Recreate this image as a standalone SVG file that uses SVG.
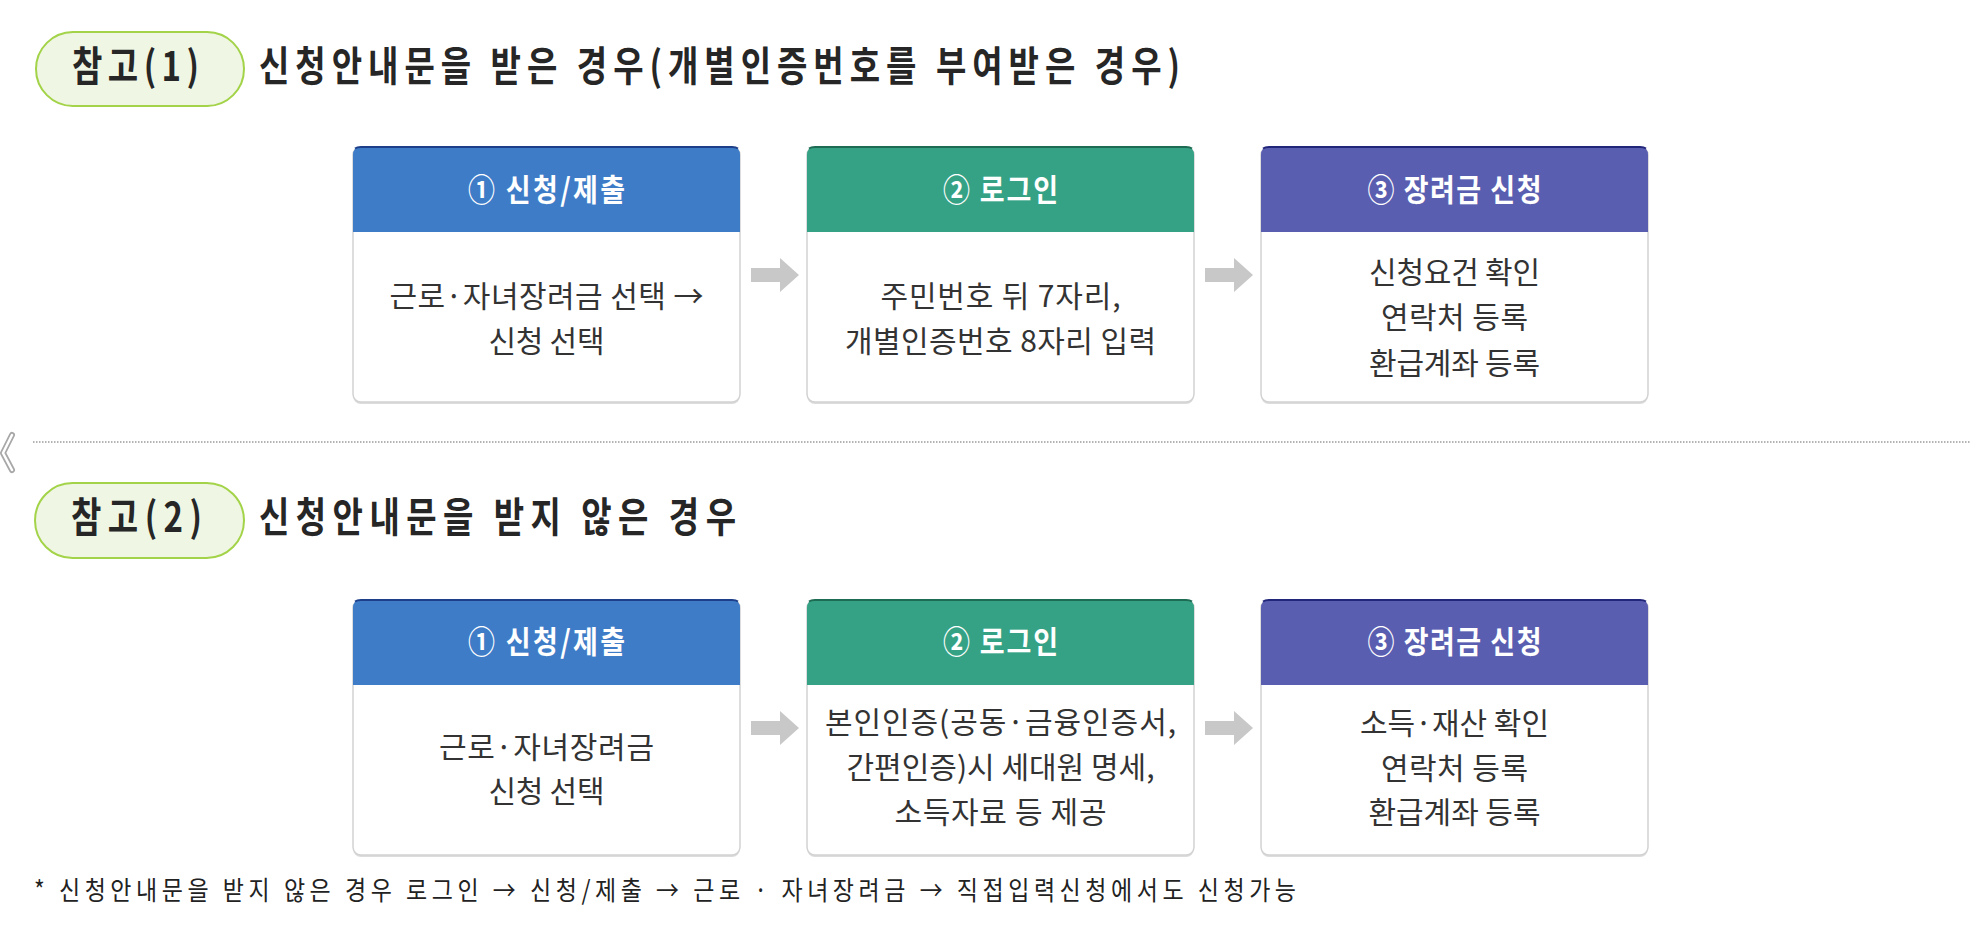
<svg xmlns="http://www.w3.org/2000/svg" width="1983" height="934" viewBox="0 0 1983 934">
<style>
  text { font-family: "Noto Sans CJK KR", "Noto Sans", sans-serif; }
  .pill { fill: #eff6e4; stroke: #a3d348; stroke-width: 2; }
  .title { font-size: 33px; font-weight: bold; fill: #262626; }
  .hdr { font-size: 27px; font-weight: bold; fill: #ffffff; text-anchor: middle; }
  .body { font-size: 30px; fill: #333333; text-anchor: middle; }
  .card { fill: #ffffff; stroke: #d2d2d2; stroke-width: 1.5; }
  .shadow { fill: #dcdcdc; }
  .arrow { fill: #c8c8c8; }
  .foot { font-size: 23px; fill: #222222; }
</style>
<defs>
  <path id="arr" d="M0,-7 H29 V-17 L48,0 L29,17 V7 H0 Z"/>
</defs>
<rect width="1983" height="934" fill="#ffffff"/>

<!-- Section 1 heading -->
<g id="ref1">
  <rect class="pill" x="36" y="32" width="208" height="74" rx="37"/>
  <text class="title" transform="translate(72,81) scale(1,1.23)" textLength="127" lengthAdjust="spacing">참고(1)</text>
</g>
<g id="title1">
  <text class="title" transform="translate(259,81) scale(1,1.23)" textLength="921" lengthAdjust="spacing">신청안내문을 받은 경우(개별인증번호를 부여받은 경우)</text>
</g>

<!-- Section 1 cards -->
<g id="s1-step1">
  <rect class="shadow" x="353" y="149" width="387" height="255" rx="8"/>
  <rect class="card" x="353" y="147" width="387" height="255" rx="8"/>
  <path d="M353,232 V155 Q353,147 361,147 H732 Q740,147 740,155 V232 Z" fill="#3e7cc7"/>
  <path d="M355,148.5 Q357,147 361,147 H732 Q736,147 738,148.5" fill="none" stroke="#1d3f8a" stroke-width="2"/>
  <text class="hdr" transform="translate(546.5,201) scale(1,1.15)" textLength="157" lengthAdjust="spacing">① 신청/제출</text>
  <text class="body" x="546.5" y="307" textLength="314" lengthAdjust="spacing">근로·자녀장려금 선택 →</text>
  <text class="body" x="546.5" y="352" textLength="116" lengthAdjust="spacing">신청 선택</text>
</g>
<g id="s1-step2">
  <rect class="shadow" x="807" y="149" width="387" height="255" rx="8"/>
  <rect class="card" x="807" y="147" width="387" height="255" rx="8"/>
  <path d="M807,232 V155 Q807,147 815,147 H1186 Q1194,147 1194,155 V232 Z" fill="#36a285"/>
  <path d="M809,148.5 Q811,147 815,147 H1186 Q1190,147 1192,148.5" fill="none" stroke="#1c6b52" stroke-width="2"/>
  <text class="hdr" transform="translate(1000.5,201) scale(1,1.15)" textLength="115" lengthAdjust="spacing">② 로그인</text>
  <text class="body" x="1000.5" y="307" textLength="240" lengthAdjust="spacing">주민번호 뒤 7자리,</text>
  <text class="body" x="1000.5" y="352" textLength="311" lengthAdjust="spacing">개별인증번호 8자리 입력</text>
</g>
<g id="s1-step3">
  <rect class="shadow" x="1261" y="149" width="387" height="255" rx="8"/>
  <rect class="card" x="1261" y="147" width="387" height="255" rx="8"/>
  <path d="M1261,232 V155 Q1261,147 1269,147 H1640 Q1648,147 1648,155 V232 Z" fill="#5a5eb0"/>
  <path d="M1263,148.5 Q1265,147 1269,147 H1640 Q1644,147 1646,148.5" fill="none" stroke="#22267a" stroke-width="2"/>
  <text class="hdr" transform="translate(1454.5,201) scale(1,1.15)" textLength="174" lengthAdjust="spacing">③ 장려금 신청</text>
  <text class="body" x="1454.5" y="283" textLength="171" lengthAdjust="spacing">신청요건 확인</text>
  <text class="body" x="1454.5" y="328" textLength="147" lengthAdjust="spacing">연락처 등록</text>
  <text class="body" x="1454.5" y="374" textLength="171" lengthAdjust="spacing">환급계좌 등록</text>
</g>

<!-- Divider -->
<g id="divider">
  <line x1="33" y1="442" x2="1970" y2="442" stroke="#9a9a9a" stroke-width="1.5" stroke-dasharray="1.5 1.5"/>
  <polyline points="12,435 3,453 12,470" fill="none" stroke="#a8a8a8" stroke-width="6" stroke-linecap="round" stroke-linejoin="round"/>
  <polyline points="12,435 3,453 12,470" fill="none" stroke="#ffffff" stroke-width="2.5" stroke-linecap="round" stroke-linejoin="round"/>
</g>

<!-- Section 2 heading -->
<g id="ref2">
  <rect class="pill" x="35" y="483" width="209" height="75" rx="37.5"/>
  <text class="title" transform="translate(71,532) scale(1,1.23)" textLength="131" lengthAdjust="spacing">참고(2)</text>
</g>
<g id="title2">
  <text class="title" transform="translate(259,532) scale(1,1.23)" textLength="477" lengthAdjust="spacing">신청안내문을 받지 않은 경우</text>
</g>

<!-- Section 2 cards -->
<g id="s2-step1">
  <rect class="shadow" x="353" y="602" width="387" height="255" rx="8"/>
  <rect class="card" x="353" y="600" width="387" height="255" rx="8"/>
  <path d="M353,685 V608 Q353,600 361,600 H732 Q740,600 740,608 V685 Z" fill="#3e7cc7"/>
  <path d="M355,601.5 Q357,600 361,600 H732 Q736,600 738,601.5" fill="none" stroke="#1d3f8a" stroke-width="2"/>
  <text class="hdr" transform="translate(546.5,653) scale(1,1.15)" textLength="157" lengthAdjust="spacing">① 신청/제출</text>
  <text class="body" x="546.5" y="758" textLength="215" lengthAdjust="spacing">근로·자녀장려금</text>
  <text class="body" x="546.5" y="802" textLength="116" lengthAdjust="spacing">신청 선택</text>
</g>
<g id="s2-step2">
  <rect class="shadow" x="807" y="602" width="387" height="255" rx="8"/>
  <rect class="card" x="807" y="600" width="387" height="255" rx="8"/>
  <path d="M807,685 V608 Q807,600 815,600 H1186 Q1194,600 1194,608 V685 Z" fill="#36a285"/>
  <path d="M809,601.5 Q811,600 815,600 H1186 Q1190,600 1192,601.5" fill="none" stroke="#1c6b52" stroke-width="2"/>
  <text class="hdr" transform="translate(1000.5,653) scale(1,1.15)" textLength="115" lengthAdjust="spacing">② 로그인</text>
  <text class="body" x="1000.5" y="733" textLength="351" lengthAdjust="spacing">본인인증(공동·금융인증서,</text>
  <text class="body" x="1000.5" y="778" textLength="308" lengthAdjust="spacing">간편인증)시 세대원 명세,</text>
  <text class="body" x="1000.5" y="823" textLength="212" lengthAdjust="spacing">소득자료 등 제공</text>
</g>
<g id="s2-step3">
  <rect class="shadow" x="1261" y="602" width="387" height="255" rx="8"/>
  <rect class="card" x="1261" y="600" width="387" height="255" rx="8"/>
  <path d="M1261,685 V608 Q1261,600 1269,600 H1640 Q1648,600 1648,608 V685 Z" fill="#5a5eb0"/>
  <path d="M1263,601.5 Q1265,600 1269,600 H1640 Q1644,600 1646,601.5" fill="none" stroke="#22267a" stroke-width="2"/>
  <text class="hdr" transform="translate(1454.5,653) scale(1,1.15)" textLength="174" lengthAdjust="spacing">③ 장려금 신청</text>
  <text class="body" x="1454.5" y="734" textLength="189" lengthAdjust="spacing">소득·재산 확인</text>
  <text class="body" x="1454.5" y="779" textLength="147" lengthAdjust="spacing">연락처 등록</text>
  <text class="body" x="1454.5" y="823" textLength="172" lengthAdjust="spacing">환급계좌 등록</text>
</g>

<!-- Connectors -->
<g id="connectors">
  <use href="#arr" class="arrow" x="751" y="275"/>
  <use href="#arr" class="arrow" x="1205" y="275"/>
  <use href="#arr" class="arrow" x="751" y="728"/>
  <use href="#arr" class="arrow" x="1205" y="728"/>
</g>

<!-- Footnote -->
<g id="footnote">
  <text class="foot" transform="translate(34,900) scale(1,1.15)" textLength="1262" lengthAdjust="spacing">* 신청안내문을 받지 않은 경우 로그인 → 신청/제출 → 근로 · 자녀장려금 → 직접입력신청에서도 신청가능</text>
</g>
</svg>
